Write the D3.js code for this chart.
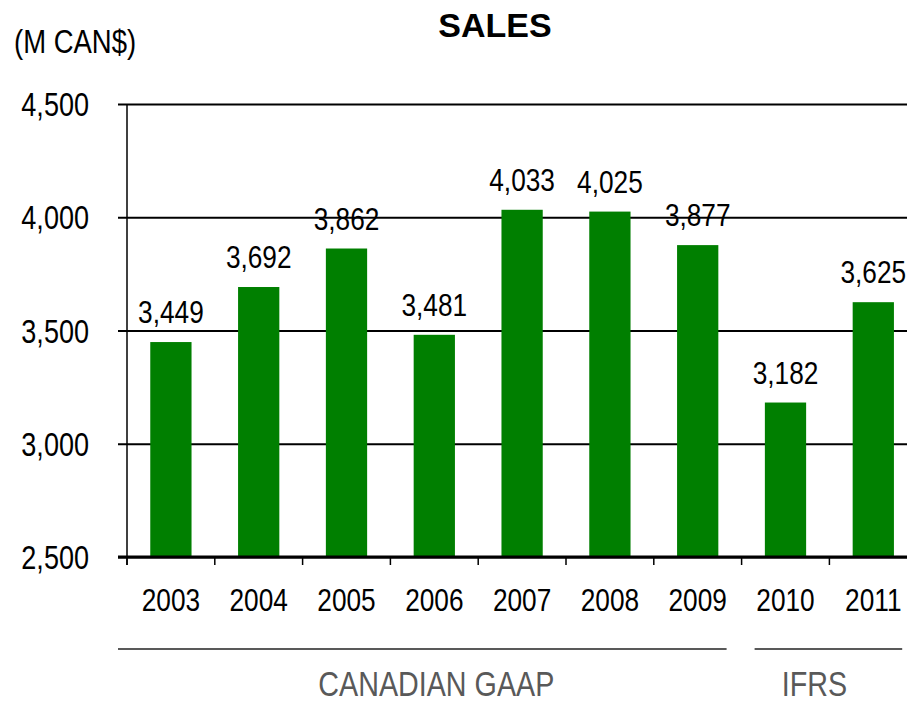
<!DOCTYPE html>
<html>
<head>
<meta charset="utf-8">
<script src="https://cdn.jsdelivr.net/npm/d3@7/dist/d3.min.js"></script>
<style>
  html, body { margin: 0; padding: 0; background: #fff; }
  svg { display: block; }
  text { font-family: "Liberation Sans", Arial, sans-serif; }
</style>
</head>
<body>
<div id="chart"></div>
<script>
// Annual sales, millions of Canadian dollars
const years = ["2003", "2004", "2005", "2006", "2007", "2008", "2009", "2010", "2011"];
const sales = [3449, 3692, 3862, 3481, 4033, 4025, 3877, 3182, 3625];
const yTicks = [2500, 3000, 3500, 4000, 4500];
const groupNames = ["CANADIAN GAAP", "IFRS"];
const groupFirst = ["2003", "2010"];
const groupLast = ["2009", "2011"];

const W = 907, H = 704;
const NARROW = 0.82; // horizontal squeeze giving a condensed face
const svg = d3.select("#chart").append("svg").attr("width", W).attr("height", H);

// place a condensed text at (px, py)
const place = (px, py) => `translate(${px},${py}) scale(${NARROW},1)`;

const left = 127, step = 87.8;
const y = d3.scaleLinear().domain([2500, 4500]).range([557, 104]);
const xCat = d3.scaleBand().domain(years).range([left, left + step * years.length]).padding(0);
const x = d3.scaleBand().domain(years).range([left, left + step * years.length])
  .paddingInner(0.53).paddingOuter(0.265);

const fmt = d3.format(",");

// Title and unit
svg.append("text").attr("x", 495).attr("y", 37).attr("text-anchor", "middle")
  .attr("font-weight", "bold").attr("font-size", 34).text("SALES");
svg.append("text").attr("transform", place(14, 53))
  .attr("font-size", 33.5).text("(M CAN$)");

// Horizontal gridlines with left ticks
const yAxis = d3.axisLeft(y).tickValues(yTicks).tickFormat(fmt)
  .tickSize(-(W - left)).tickPadding(30);
const gy = svg.append("g").attr("transform", `translate(${left},0)`).call(yAxis);
gy.select(".domain").remove();
gy.selectAll(".tick line").attr("x1", -9).attr("stroke", "#000").attr("stroke-width", 2);
gy.selectAll(".tick text").attr("font-size", 33).attr("font-family", null)
  .attr("fill", "#000").attr("x", 0).attr("dy", "0.35em")
  .attr("transform", place(-38, 0));

// Vertical axis line
svg.append("line").attr("x1", left).attr("x2", left).attr("y1", y(4500)).attr("y2", y(2500) + 8)
  .attr("stroke", "#000").attr("stroke-width", 1.5);

// Bars
svg.append("g").selectAll("rect").data(years).join("rect")
  .attr("x", d => x(d)).attr("width", x.bandwidth())
  .attr("y", (d, i) => y(sales[i])).attr("height", (d, i) => y(2500) - y(sales[i]))
  .attr("fill", "#007f00");

// Value labels
svg.append("g").selectAll("text").data(years).join("text")
  .attr("font-size", 32).attr("text-anchor", "middle")
  .attr("transform", (d, i) => place(x(d) + x.bandwidth() / 2, y(sales[i]) - 19))
  .text((d, i) => fmt(sales[i]));

// Category axis: baseline, ticks at band boundaries, year labels
svg.append("line").attr("x1", left - 9).attr("x2", W).attr("y1", y(2500)).attr("y2", y(2500))
  .attr("stroke", "#000").attr("stroke-width", 3);
svg.append("g").selectAll("line").data(years).join("line")
  .attr("x1", d => xCat(d)).attr("x2", d => xCat(d))
  .attr("y1", y(2500)).attr("y2", y(2500) + 8)
  .attr("stroke", "#000").attr("stroke-width", 1.5);
svg.append("g").selectAll("text").data(years).join("text")
  .attr("font-size", 32).attr("text-anchor", "middle")
  .attr("transform", d => place(xCat(d) + xCat.bandwidth() / 2, 611))
  .text(d => d);

// Accounting standard groups
groupNames.forEach((name, i) => {
  const start = xCat(groupFirst[i]);
  const end = xCat(groupLast[i]) + xCat.bandwidth();
  const x1 = i === 0 ? start - 9 : start + 13;
  const x2 = end - 15;
  svg.append("line").attr("x1", x1).attr("x2", x2).attr("y1", 649).attr("y2", 649)
    .attr("stroke", "#222").attr("stroke-width", 1.5);
  svg.append("text").attr("font-size", 35).attr("fill", "#595959")
    .attr("text-anchor", "middle")
    .attr("transform", place((start + end) / 2 + (i === 0 ? 2 : -15), 696))
    .text(name);
});
</script>
</body>
</html>
